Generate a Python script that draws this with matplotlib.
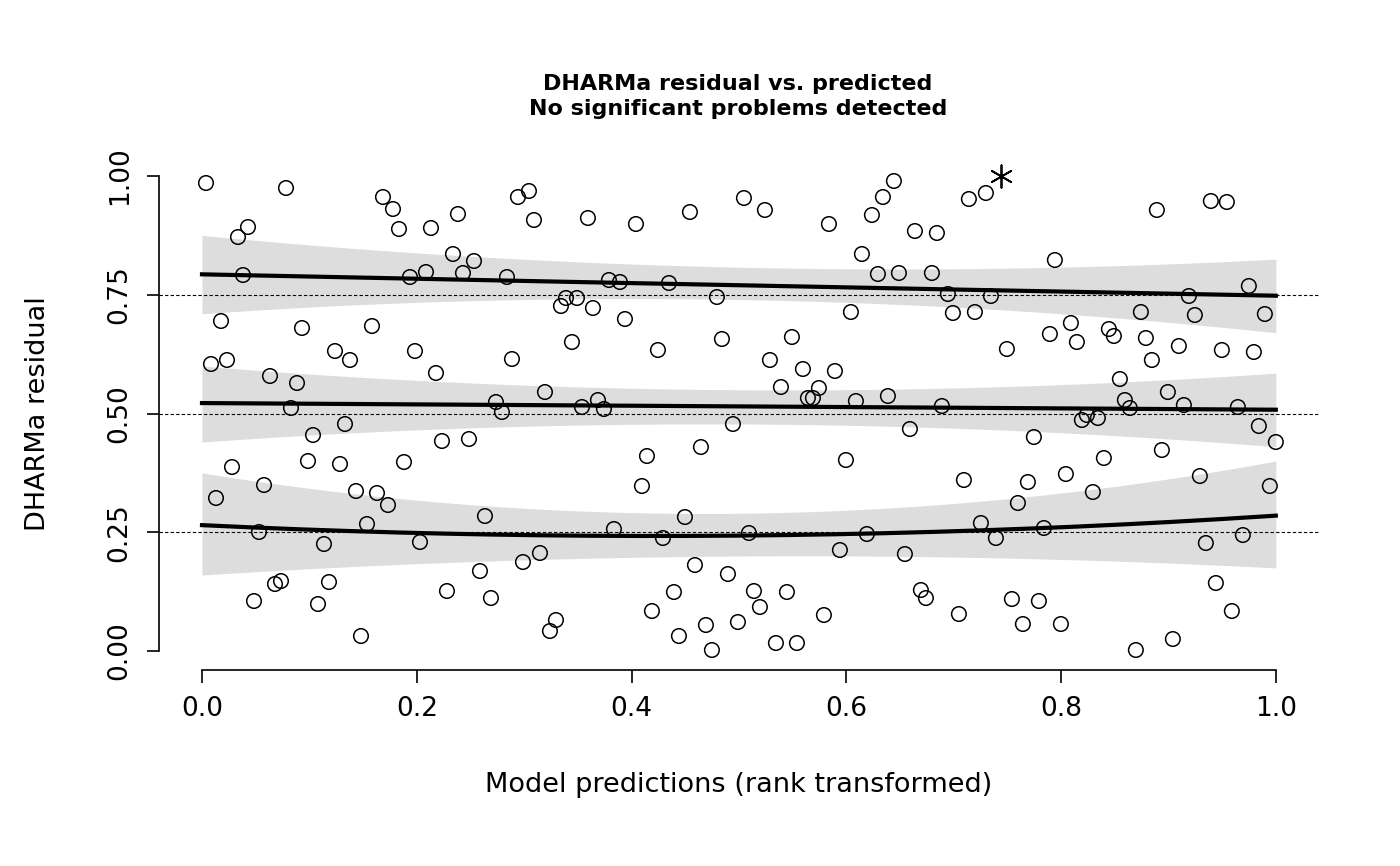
import numpy as np
import matplotlib
matplotlib.use("Agg")
import matplotlib.pyplot as plt

# point pixel readings converted to data
px = [206,211,216,221,227,232,238,243,248,254,259,264,270,275,281,286,291,297,302,308,313,318,324,329,335,340,345,350,356,361,367,372,377,383,388,393,399,404,410,415,420,426,431,436,442,447,453,458,463,469,474,480,485,491,496,502,507,512,518,523,529,534,540,545,550,556,561,566,572,577,582,588,593,598,604,609,614,620,625,636,642,647,652,658,663,669,674,679,685,690,695,701,706,712,717,722,728,733,738,744,749,754,760,765,770,776,781,787,792,797,803,808,813,819,824,829,835,840,846,851,856,862,867,872,878,883,888,894,899,905,910,915,921,926,932,937,942,948,953,959,964,969,975,981,986,991,996,1007,1012,1018,1023,1028,1034,1039,1044,1050,1055,1061,1066,1071,1077,1082,1087,1093,1098,1104,1109,1114,1120,1125,1130,1136,1141,1146,1152,1157,1162,1168,1173,1179,1184,1189,1195,1200,1206,1211,1216,1222,1227,1232,1238,1243,1249,1254,1259,1265,1270,1276]
py = [183,364,498,321,360,467,237,275,227,601,532,485,376,584,581,188,408,383,328,461,435,604,544,582,351,464,424,360,491,636,524,326,493,197,505,209,229,462,277,351,542,272,228,373,441,591,254,214,273,439,261,571,516,598,402,412,277,359,197,562,191,220,553,392,631,620,306,298,342,298,407,218,308,400,409,280,529,282,319,224,486,456,611,350,538,283,592,636,517,212,565,447,625,650,297,339,574,424,622,198,533,591,607,210,360,643,387,592,337,643,369,398,398,388,615,224,371,550,460,312,401,254,534,215,274,197,396,181,273,554,429,231,590,598,273,233,406,294,313,614,480,199,312,523,193,296,538,349,599,503,624,482,437,601,528,334,260,624,474,323,342,420,415,492,418,458,329,336,379,400,408,650,312,338,360,210,450,392,639,346,405,296,315,476,543,201,583,350,202,611,407,535,286,352,426,314,486,442]
x = [(p - 202) / 1074 for p in px]
y = [(651 - q) / 475 for q in py]
outlier_x = [0.744]
outlier_y = [1.0]

# quantile lines and bands at x = 0, 0.5, 1
qx = [0.0, 0.5, 1.0]
q_lines = [[0.265, 0.243, 0.285], [0.522, 0.515, 0.508], [0.793, 0.770, 0.748]]
q_lo = [[0.160, 0.200, 0.175], [0.440, 0.478, 0.430], [0.710, 0.740, 0.670]]
q_hi = [[0.375, 0.290, 0.400], [0.600, 0.550, 0.585], [0.875, 0.808, 0.825]]

fig = plt.figure(figsize=(14, 8.66), dpi=100)
ax = fig.add_axes([0.1136, 0.2263, 0.8284, 0.5924])
xs = np.linspace(0, 1, 200)
def curve(v):
    return np.polyval(np.polyfit(qx, v, 2), xs)
for ln, lo, hi in zip(q_lines, q_lo, q_hi):
    ax.fill_between(xs, curve(lo), curve(hi), color='#dddddd', lw=0, zorder=1)
for yy in [0.25, 0.5, 0.75]:
    ax.axhline(yy, color='black', lw=0.8, ls=(0, (3, 2)), zorder=2)
for ln in q_lines:
    ax.plot(xs, curve(ln), color='black', lw=3, zorder=3)
ax.scatter(x, y, s=110, facecolors='none', edgecolors='black', linewidths=1.1, zorder=4)
ax.scatter(outlier_x, outlier_y, s=260, marker=(6, 2, 0), color='black', linewidths=1.3, zorder=4)

ax.set_xlim(-0.04, 1.04)
ax.set_ylim(-0.04, 1.04)
for s in ['top', 'right']:
    ax.spines[s].set_visible(False)
ax.spines['left'].set_bounds(0, 1)
ax.spines['bottom'].set_bounds(0, 1)
ax.set_xticks([0, 0.2, 0.4, 0.6, 0.8, 1.0])
ax.set_xticklabels(['0.0', '0.2', '0.4', '0.6', '0.8', '1.0'])
ax.set_yticks([0, 0.25, 0.5, 0.75, 1.0])
ax.set_yticklabels(['0.00', '0.25', '0.50', '0.75', '1.00'], rotation=90, va='center')
ax.tick_params(labelsize=19, length=9, width=1.2, pad=10)
ax.spines['left'].set_linewidth(1.2)
ax.spines['bottom'].set_linewidth(1.2)
ax.set_xlabel('Model predictions (rank transformed)', fontsize=19.5, labelpad=36)
ax.set_ylabel('DHARMa residual', fontsize=19.5, labelpad=40)
fig.text(0.527, 0.889, 'DHARMa residual vs. predicted\nNo significant problems detected',
         ha='center', va='center', fontsize=16, fontweight='bold', linespacing=1.3)
fig.savefig('out.png', dpi=100)
